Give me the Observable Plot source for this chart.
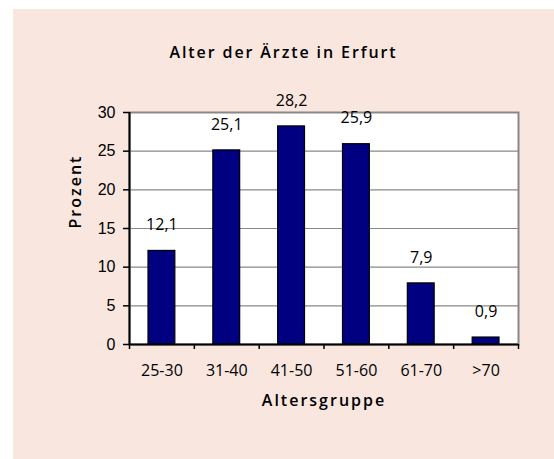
<!DOCTYPE html>
<html>
<head>
<meta charset="utf-8">
<script src="https://cdn.jsdelivr.net/npm/d3@7"></script>
<script src="https://cdn.jsdelivr.net/npm/@observablehq/plot@0.6"></script>
<style>
  html, body { margin: 0; padding: 0; background: #ffffff; }
  #panel { position: absolute; left: 13px; top: 9px; width: 541px; height: 450px; background: #f8e6df; }
  #title { padding-top: 33px; height: 20px; line-height: 20px; text-align: center;
           font-family: "Open Sans", sans-serif; font-weight: 600; font-size: 16px; letter-spacing: 1.9px; color: #000; }
  #chart svg { display: block; }
</style>
</head>
<body>
<div id="panel">
  <div id="title">Alter der Ärzte in Erfurt</div>
  <div id="chart"></div>
</div>
<script>
const categories = ["25-30", "31-40", "41-50", "51-60", "61-70", ">70"];
const values = [12.1, 25.1, 28.2, 25.9, 7.9, 0.9];
const yTicks = [0, 5, 10, 15, 20, 25, 30];
const gridTicks = [5, 10, 15, 20, 25];
const yLabel = "Prozent";
const xLabel = "Altersgruppe";

const data = categories.map((c, i) => ({ cat: c, i, value: values[i] }));
const boundaries = d3.range(categories.length + 1);
const centers = categories.map((c, i) => i + 0.5);
const fmt = v => v.toFixed(1).replace(".", ",");

const chart = Plot.plot({
  width: 541,
  height: 397,
  marginLeft: 116,
  marginRight: 36,
  marginTop: 50,
  marginBottom: 115,
  x: { domain: [0, categories.length] },
  y: { domain: [0, 30] },
  style: { background: "transparent", fontFamily: "Open Sans", fontSize: "16px", color: "black", overflow: "visible" },
  marks: [
    Plot.frame({ fill: "white" }),
    Plot.gridY({ ticks: gridTicks, stroke: "#888888", strokeOpacity: 1, strokeWidth: 1.2 }),
    Plot.frame({ stroke: "#888888", strokeWidth: 2 }),
    Plot.rectY(data, { x1: "i", x2: d => d.i + 1, y: "value", insetLeft: 19, insetRight: 19, fill: "#000080", stroke: "black", strokeWidth: 1.2 }),
    Plot.ruleY([0], { stroke: "black", strokeWidth: 2 }),
    Plot.ruleX([0], { stroke: "black", strokeWidth: 2 }),
    Plot.axisY({ ticks: yTicks, tickSize: 6, tickPadding: 8, tickFormat: d => String(d), fontFamily: "Liberation Sans, Arial, sans-serif", fontSize: 16, label: null, stroke: "black", strokeWidth: 1.5 }),
    Plot.axisX({ ticks: boundaries, tickSize: 5, tickFormat: () => "", label: null, stroke: "black", strokeWidth: 1.5 }),
    Plot.axisX({ ticks: centers, tickSize: 0, tickPadding: 20, tickFormat: d => categories[Math.floor(d)], label: null, fontSize: 16 }),
    Plot.text(data, { x: d => d.i + 0.5, y: "value", text: d => fmt(d.value), dy: -26, fontSize: 16, fill: "black" }),
    Plot.text([yLabel], { frameAnchor: "left", dx: -54, rotate: -90, fontSize: 16, fontWeight: 600, fill: "black" }),
    Plot.text([xLabel], { frameAnchor: "bottom", dy: 61, fontSize: 16, fontWeight: 600, fill: "black" })
  ]
});

d3.select(chart).selectAll("text")
  .filter(function () { return this.textContent === yLabel || this.textContent === xLabel; })
  .style("letter-spacing", "2px");

document.getElementById("chart").appendChild(chart);
</script>
</body>
</html>
